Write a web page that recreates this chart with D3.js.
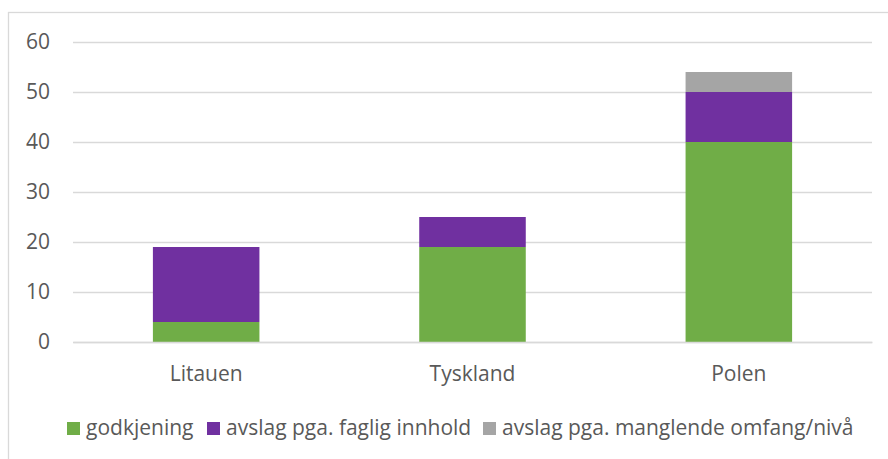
<!DOCTYPE html>
<html>
<head>
<meta charset="utf-8">
<script src="https://cdn.jsdelivr.net/npm/d3@7"></script>
<style>
  body { margin: 0; background: #fff; }
  svg text { font-family: 'Open Sans', sans-serif; fill: #595959; }
</style>
</head>
<body>
<div id="chart"></div>
<script>
// data
var countries = ['Litauen', 'Tyskland', 'Polen'];
var seriesNames = ['godkjening', 'avslag pga. faglig innhold', 'avslag pga. manglende omfang/nivå'];
var godkjening = [4, 19, 40];
var avslagFaglig = [15, 6, 10];
var avslagOmfang = [0, 0, 4];
var yTicks = [0, 10, 20, 30, 40, 50, 60];
var colors = ['#70AD47', '#7030A0', '#A5A5A5'];

var svgWidth = 888;
var svgHeight = 459;

var margin = { top: 42, right: 16, bottom: 117, left: 73 };
var chartWidth = svgWidth - margin.left - margin.right;
var chartHeight = svgHeight - margin.top - margin.bottom;

var svg = d3.select('#chart')
  .append('svg')
  .attr('width', svgWidth)
  .attr('height', svgHeight);

// outer chart border (only top and left visible in the crop)
svg.append('rect')
  .attr('x', 8.5)
  .attr('y', 12.5)
  .attr('width', svgWidth + 20)
  .attr('height', svgHeight + 20)
  .attr('fill', 'none')
  .attr('stroke', '#d9d9d9')
  .attr('stroke-width', 1.3);

var chartGroup = svg.append('g')
  .attr('transform', `translate(${margin.left}, ${margin.top})`);

// build stacked table
var table = countries.map(function(c, i) {
  return { country: c, s0: godkjening[i], s1: avslagFaglig[i], s2: avslagOmfang[i] };
});
var stack = d3.stack().keys(['s0', 's1', 's2']);
var stacked = stack(table);

var xScale = d3.scaleBand()
  .domain(countries)
  .range([0, chartWidth])
  .paddingInner(0.6)
  .paddingOuter(0.3);

var yScale = d3.scaleLinear()
  .domain([0, 60])
  .range([chartHeight, 0]);

// gridlines
var leftAxis = d3.axisLeft(yScale)
  .tickValues(yTicks)
  .tickSize(-chartWidth)
  .tickPadding(23);

var yAxis = chartGroup.append('g').call(leftAxis);
yAxis.select('.domain').remove();
yAxis.selectAll('line')
  .attr('stroke', '#d9d9d9')
  .attr('stroke-width', 1.3);
yAxis.selectAll('text')
  .style('font-size', '21px')
  .attr('fill', '#595959');

// bars
chartGroup.selectAll('.layer')
  .data(stacked)
  .enter()
  .append('g')
  .attr('class', 'layer')
  .attr('fill', (d, i) => colors[i])
  .selectAll('rect')
  .data(d => d.filter(p => p[1] - p[0] > 0))
  .enter()
  .append('rect')
  .attr('x', d => xScale(d.data.country))
  .attr('y', d => yScale(d[1]))
  .attr('width', xScale.bandwidth())
  .attr('height', d => yScale(d[0]) - yScale(d[1]));

// x axis
var bottomAxis = d3.axisBottom(xScale).tickSize(0).tickPadding(24);
var xAxis = chartGroup.append('g')
  .attr('transform', `translate(0, ${chartHeight})`)
  .call(bottomAxis);
xAxis.select('.domain')
  .attr('stroke', '#d9d9d9')
  .attr('stroke-width', 1.3);
xAxis.selectAll('text')
  .style('font-size', '21px')
  .attr('fill', '#595959');

// legend
var legend = svg.append('g').attr('transform', 'translate(0, 428)');
var legendX = [67, 207, 483];
seriesNames.forEach(function(name, i) {
  var item = legend.append('g').attr('transform', `translate(${legendX[i]}, 0)`);
  item.append('rect')
    .attr('x', 0)
    .attr('y', -6)
    .attr('width', 13)
    .attr('height', 13)
    .attr('fill', colors[i]);
  item.append('text')
    .attr('x', 19)
    .attr('y', 0)
    .attr('dy', '0.35em')
    .style('font-size', '21px')
    .text(name);
});
</script>
</body>
</html>
